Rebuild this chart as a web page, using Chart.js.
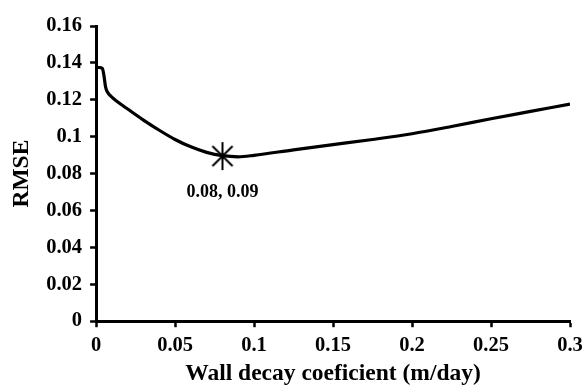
<!DOCTYPE html>
<html>
<head>
<meta charset="utf-8">
<script src="https://cdn.jsdelivr.net/npm/chart.js@4.4.1/dist/chart.umd.min.js"></script>
<style>
  html, body { margin: 0; padding: 0; background: #fff; }
  #wrap { width: 585px; height: 388px; }
</style>
</head>
<body>
<div id="wrap"><canvas id="c" width="585" height="388"></canvas></div>
<script>
// Wall decay coefficient (m/day)
const kw = [0, 0.002, 0.004, 0.005, 0.006, 0.007, 0.010, 0.015, 0.020, 0.030, 0.040, 0.050, 0.060, 0.070, 0.080, 0.090, 0.100, 0.125, 0.150, 0.175, 0.200, 0.225, 0.250, 0.275, 0.300];
// RMSE
const rmse = [0.1375, 0.1375, 0.1370, 0.1330, 0.1270, 0.1245, 0.1215, 0.1180, 0.1150, 0.1090, 0.1035, 0.0985, 0.0945, 0.0915, 0.0897, 0.0891, 0.0899, 0.0929, 0.0957, 0.0985, 0.1016, 0.1055, 0.1097, 0.1137, 0.1177];
// Optimum point
const optX = [0.08];
const optY = [0.0895];
const optLabel = ['0.08, 0.09'];

const FONT = 'Liberation Serif, Times New Roman, serif';

function makeAsterisk(r, lw) {
  const s = 2 * r + 4;
  const cv = document.createElement('canvas');
  cv.width = s; cv.height = s;
  const g = cv.getContext('2d');
  const c = s / 2;
  g.strokeStyle = '#000';
  g.lineWidth = lw;
  g.beginPath();
  g.moveTo(c, c - r); g.lineTo(c, c + r);
  const d = r * 0.72;
  g.moveTo(c - d, c - d); g.lineTo(c + d, c + d);
  g.moveTo(c - d, c + d); g.lineTo(c + d, c - d);
  g.stroke();
  return cv;
}
const star = makeAsterisk(14, 2);

const labelPlugin = {
  id: 'optLabel',
  afterDatasetsDraw(chart) {
    const meta = chart.getDatasetMeta(1);
    const ctx = chart.ctx;
    ctx.save();
    ctx.font = 'bold 18px ' + FONT;
    ctx.fillStyle = '#000';
    ctx.textAlign = 'center';
    ctx.textBaseline = 'middle';
    meta.data.forEach((pt, i) => {
      ctx.fillText(optLabel[i], pt.x, pt.y + 36);
    });
    ctx.restore();
  }
};

new Chart(document.getElementById('c'), {
  type: 'scatter',
  data: {
    datasets: [
      {
        data: kw.map((x, i) => ({ x: x, y: rmse[i] })),
        showLine: true,
        borderColor: '#000',
        borderWidth: 3.2,
        pointRadius: 0,
        cubicInterpolationMode: 'monotone',
        order: 2
      },
      {
        data: optX.map((x, i) => ({ x: x, y: optY[i] })),
        showLine: false,
        pointStyle: star,
        pointRadius: 14,
        order: 1
      }
    ]
  },
  options: {
    responsive: false,
    animation: false,
    layout: { padding: { left: 8, right: 0, top: 26, bottom: 0 } },
    plugins: { legend: { display: false }, tooltip: { enabled: false } },
    scales: {
      x: {
        type: 'linear',
        min: 0, max: 0.3,
        afterFit: s => { s.paddingRight = 14; },
        grid: { drawOnChartArea: false, drawTicks: true, tickLength: 6, tickWidth: 2.5, tickColor: '#000' },
        border: { display: true, color: '#000', width: 3 },
        ticks: {
          stepSize: 0.05,
          color: '#000',
          padding: 6,
          font: { family: FONT, size: 20.5, weight: 'bold' },
          maxRotation: 0,
          callback: v => String(parseFloat(v.toFixed(2)))
        },
        title: {
          display: true,
          text: 'Wall decay coeficient (m/day)',
          color: '#000',
          font: { family: FONT, size: 23.5, weight: 'bold' },
          padding: { top: -4, bottom: 0 }
        }
      },
      y: {
        min: 0, max: 0.16,
        grid: { drawOnChartArea: false, drawTicks: true, tickLength: 6, tickWidth: 2.5, tickColor: '#000' },
        border: { display: true, color: '#000', width: 3 },
        ticks: {
          stepSize: 0.02,
          color: '#000',
          padding: 8,
          font: { family: FONT, size: 20.5, weight: 'bold' },
          callback: v => String(parseFloat(v.toFixed(2)))
        },
        title: {
          display: true,
          text: 'RMSE',
          color: '#000',
          font: { family: FONT, size: 23.5, weight: 'bold' },
          padding: { top: 0, bottom: 2 }
        }
      }
    }
  },
  plugins: [labelPlugin]
});
</script>
</body>
</html>
